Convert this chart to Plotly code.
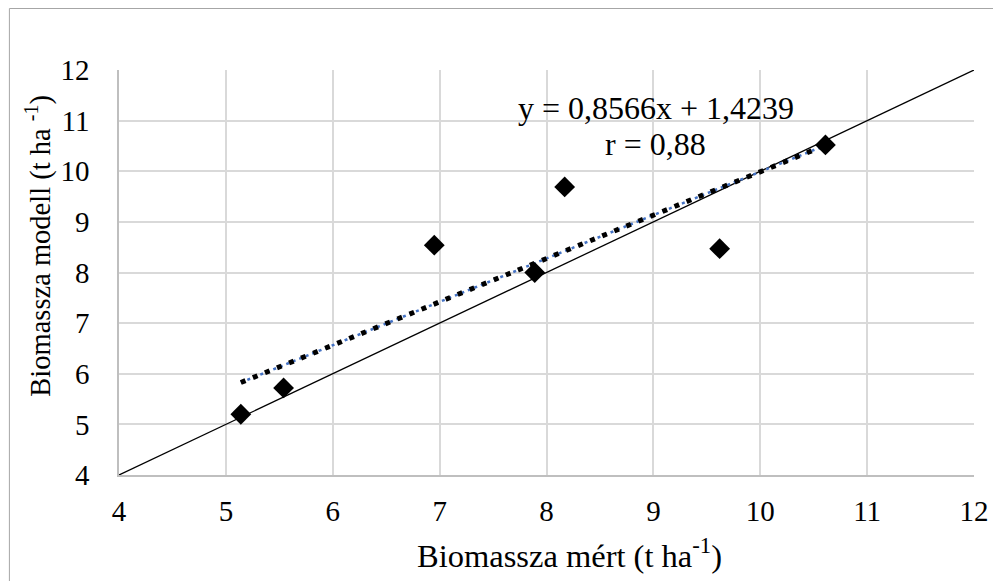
import plotly.graph_objects as go

measured = [5.14, 5.54, 6.95, 7.89, 8.17, 9.62, 10.61]
modelled = [5.20, 5.72, 8.54, 8.00, 9.69, 8.47, 10.52]

slope = 0.8566
intercept = 1.4239
r_value = 0.88

trend_x = [min(measured), max(measured)]
trend_y = [slope * v + intercept for v in trend_x]

diag = [4, 12]
tick_vals = [4, 5, 6, 7, 8, 9, 10, 11, 12]
tick_text = [str(v) for v in tick_vals]

x_title = "Biomassza mért (t ha<sup>-1</sup>)"
y_title = "Biomassza modell (t ha <sup>-1</sup>)"

FONT = "Liberation Serif"
W, H = 993, 573
L, R, T, B = 111, 20, 62, 106
pw, ph = W - L - R, H - T - B


def px(fx):
    return (fx - L) / pw


def py(fy):
    return (H - B - fy) / ph


fig = go.Figure()
fig.add_trace(go.Scatter(x=diag, y=diag, mode="lines",
                         line=dict(color="black", width=1.3), hoverinfo="skip"))
fig.add_trace(go.Scatter(x=trend_x, y=trend_y, mode="lines",
                         line=dict(color="#4472C4", width=2.5, dash="3px,4px")))
fig.add_trace(go.Scatter(x=trend_x, y=trend_y, mode="lines",
                         line=dict(color="black", width=5, dash="5px,8px")))
fig.add_trace(go.Scatter(x=measured, y=modelled, mode="markers",
                         marker=dict(symbol="diamond", size=16, color="black")))

fig.add_annotation(x=9.02, y=11.25, xref="x", yref="y", showarrow=False,
                   xanchor="center", yanchor="middle",
                   text=f"y = {str(slope).replace('.', ',')}x + {str(intercept).replace('.', ',')}",
                   font=dict(family=FONT, size=32, color="black"))
fig.add_annotation(x=9.02, y=10.54, xref="x", yref="y", showarrow=False,
                   xanchor="center", yanchor="middle",
                   text=f"r = {str(r_value).replace('.', ',')}",
                   font=dict(family=FONT, size=32, color="black"))

# axis titles (positioned as in the reference)
fig.add_annotation(x=px(565), y=py(545), xref="paper", yref="paper", showarrow=False,
                   xanchor="center", yanchor="middle",
                   text=x_title, font=dict(family=FONT, size=32.5, color="black"))
fig.add_annotation(x=px(29), y=py(238), xref="paper", yref="paper", showarrow=False,
                   xanchor="center", yanchor="middle",
                   text=y_title, textangle=-90,
                   font=dict(family=FONT, size=28.5, color="black"))

axis_common = dict(range=[4, 12], tickmode="array", tickvals=tick_vals, ticktext=tick_text,
                   showgrid=True, gridcolor="#d9d9d9", gridwidth=1.5, zeroline=False,
                   showline=True, linecolor="#bfbfbf", linewidth=1.5,
                   tickfont=dict(family=FONT, size=29, color="black"),
                   ticks="")

fig.update_xaxes(**axis_common, ticklabelstandoff=9)
fig.update_yaxes(**axis_common, ticklabelstandoff=22)

# chart-area border (left and top edges visible)
for x0, y0, x1, y1 in [(0.5, 0.5, W, 0.5), (0.5, 0.5, 0.5, H)]:
    fig.add_shape(type="line", xref="paper", yref="paper",
                  x0=px(x0), x1=px(x1), y0=py(y0), y1=py(y1),
                  line=dict(color="#a6a6a6", width=1), layer="below")

fig.update_layout(width=W, height=H, showlegend=False,
                  font=dict(family=FONT, size=29, color="black"),
                  plot_bgcolor="white", paper_bgcolor="white",
                  margin=dict(l=L, r=R, t=T, b=B))

fig.write_html("out.html")
